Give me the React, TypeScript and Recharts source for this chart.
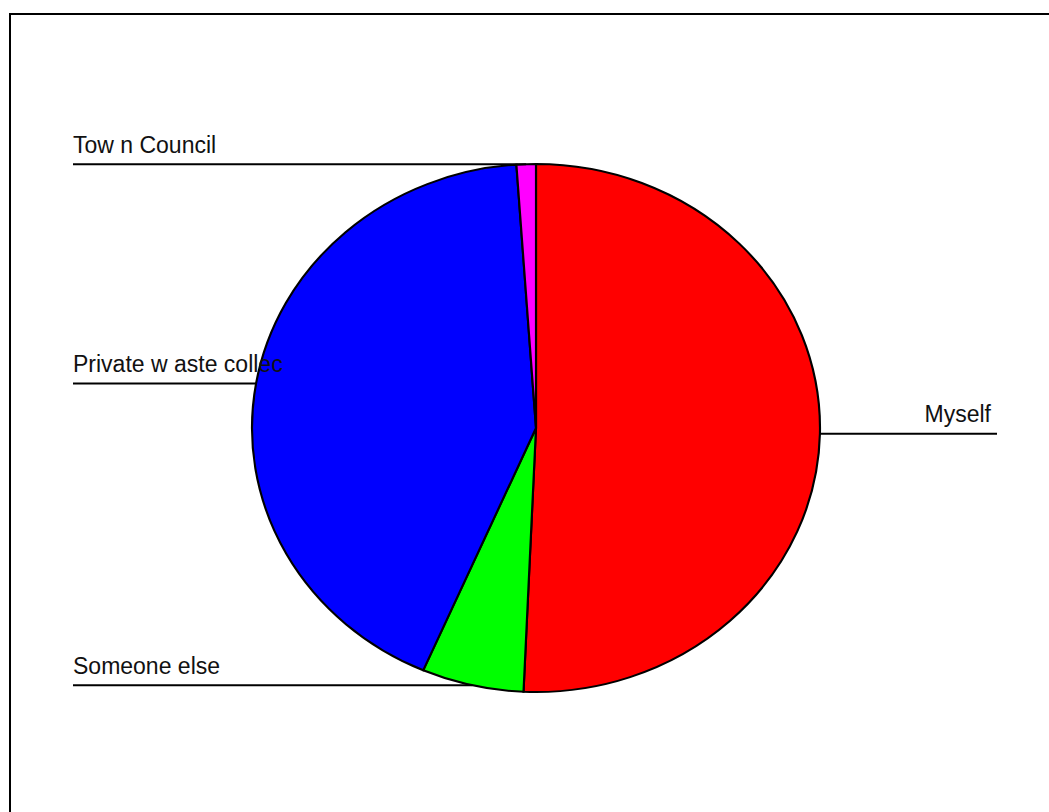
import { PieChart, Pie, Cell } from 'recharts';

const categories = ['Myself', 'Someone else', 'Private w aste collec', 'Tow n Council'];
const shares = [50.7, 5.8, 42.4, 1.1];
const colors = ['#ff0000', '#00ff00', '#0000ff', '#ff00ff'];

const data = categories.map((name, i) => ({ name, value: shares[i] }));

const RAD = Math.PI / 180;
const RY = 264;
const RX = 284;
const SX = RX / RY;
const CX = 536;
const CY = 428;

function renderLabel(props: any) {
  const { cx, cy, midAngle, outerRadius, name } = props;
  const px = cx + outerRadius * SX * Math.cos(-midAngle * RAD);
  const py = cy + outerRadius * Math.sin(-midAngle * RAD);
  const left = px < cx;
  const style = { fontFamily: '"Liberation Sans", Arial, sans-serif', fontSize: 23, fill: '#111' };
  if (left) {
    return (
      <g>
        <line x1={73} y1={py} x2={px} y2={py} stroke="#000" strokeWidth={2} />
        <text x={73} y={py - 11} style={style}>{name}</text>
      </g>
    );
  }
  return (
    <g>
      <line x1={px} y1={py} x2={997} y2={py} stroke="#000" strokeWidth={2} />
      <text x={991} y={py - 12} textAnchor="end" style={style}>{name}</text>
    </g>
  );
}

export default function App() {
  return (
    <div style={{ position: 'absolute', left: 0, top: 0, width: 1049, height: 812, background: '#fff', overflow: 'hidden' }}>
      <style>{`
        .squash .recharts-pie-sector path { transform: scaleX(${SX}); transform-origin: ${CX}px ${CY}px; }
      `}</style>
      <div
        style={{
          position: 'absolute',
          left: 9,
          top: 13,
          width: 1049,
          height: 812,
          borderTop: '2px solid #000',
          borderLeft: '2px solid #000',
        }}
      />
      <div style={{ position: 'absolute', left: 0, top: 0 }}>
        <PieChart width={1049} height={812} margin={{ top: 0, right: 0, bottom: 0, left: 0 }} className="squash">
          <Pie
            data={data}
            dataKey="value"
            nameKey="name"
            cx={CX}
            cy={CY}
            outerRadius={RY}
            startAngle={90}
            endAngle={-270}
            stroke="#000"
            strokeWidth={2}
            label={renderLabel}
            labelLine={false}
            isAnimationActive={false}
          >
            {data.map((d, i) => (
              <Cell key={d.name} fill={colors[i]} />
            ))}
          </Pie>
        </PieChart>
      </div>
    </div>
  );
}
